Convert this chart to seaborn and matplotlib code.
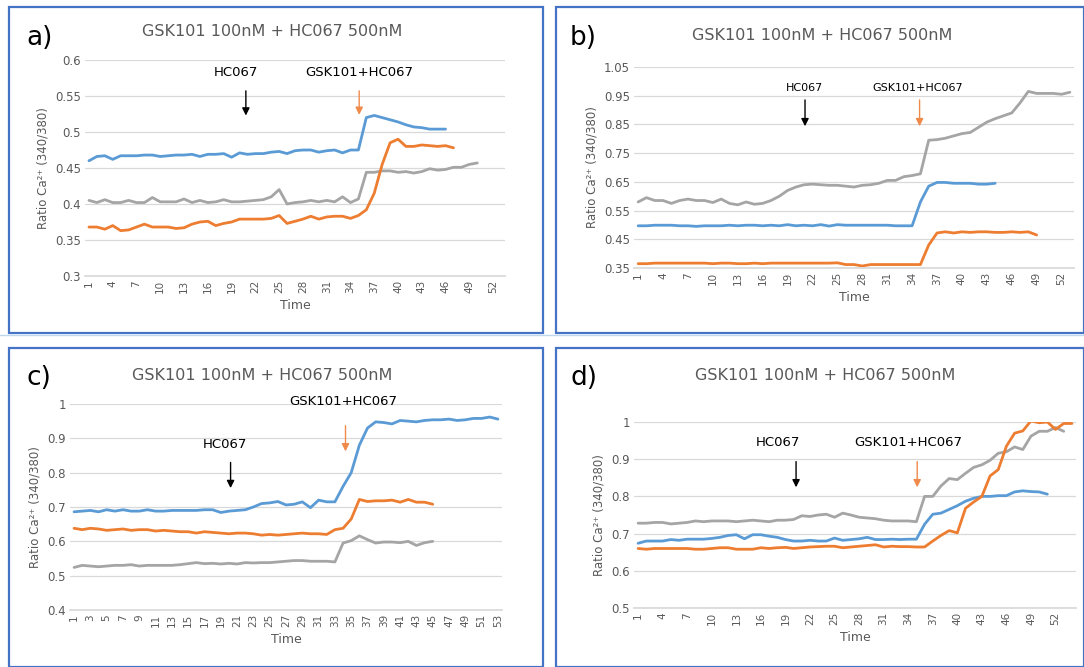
import matplotlib
matplotlib.use("Agg")
import matplotlib.pyplot as plt
from matplotlib.lines import Line2D
from matplotlib.patches import Rectangle
import numpy as np
import seaborn as sns

sns.set_theme(style="white")
plt.rcParams["font.family"] = ["DejaVu Sans"]

BLUE = "#5B9BD5"
ORANGE = "#ED7D31"
GRAY = "#A5A5A5"
TEXT = "#595959"
FRAME = "#4472C4"

TITLE = "GSK101 100nM + HC067 500nM"

# ---- panel a ----
a_blue = [0.460, 0.466, 0.467, 0.462, 0.467, 0.467, 0.467, 0.468, 0.468, 0.466,
          0.467, 0.468, 0.468, 0.469, 0.466, 0.469, 0.469, 0.470, 0.465, 0.471,
          0.469, 0.470, 0.470, 0.472, 0.473, 0.470, 0.474, 0.475, 0.475, 0.472,
          0.474, 0.475, 0.471, 0.475, 0.475, 0.520, 0.523, 0.520, 0.517, 0.514,
          0.510, 0.507, 0.506, 0.504, 0.504, 0.504]
a_orange = [0.368, 0.368, 0.365, 0.370, 0.363, 0.364, 0.368, 0.372, 0.368, 0.368,
            0.368, 0.366, 0.367, 0.372, 0.375, 0.376, 0.370, 0.373, 0.375, 0.379,
            0.379, 0.379, 0.379, 0.380, 0.384, 0.373, 0.376, 0.379, 0.383, 0.379,
            0.382, 0.383, 0.383, 0.380, 0.384, 0.392, 0.415, 0.455, 0.485, 0.490,
            0.480, 0.480, 0.482, 0.481, 0.480, 0.481, 0.478]
a_gray = [0.405, 0.402, 0.406, 0.402, 0.402, 0.405, 0.402, 0.402, 0.409, 0.403,
          0.403, 0.403, 0.407, 0.402, 0.405, 0.402, 0.403, 0.406, 0.403, 0.403,
          0.404, 0.405, 0.406, 0.410, 0.420, 0.400, 0.402, 0.403, 0.405, 0.403,
          0.405, 0.403, 0.410, 0.402, 0.407, 0.444, 0.444, 0.446, 0.446, 0.444,
          0.445, 0.443, 0.445, 0.449, 0.447, 0.448, 0.451, 0.451, 0.455, 0.457]

# ---- panel b ----
b_blue = [0.497, 0.497, 0.499, 0.499, 0.499, 0.497, 0.497, 0.495, 0.497, 0.497,
          0.497, 0.499, 0.497, 0.499, 0.499, 0.497, 0.499, 0.497, 0.501, 0.497,
          0.499, 0.497, 0.501, 0.496, 0.501, 0.499, 0.499, 0.499, 0.499, 0.499,
          0.499, 0.497, 0.497, 0.497, 0.580, 0.635, 0.648, 0.648, 0.645, 0.645,
          0.645, 0.642, 0.642, 0.645]
b_orange = [0.365, 0.365, 0.367, 0.367, 0.367, 0.367, 0.367, 0.367, 0.367, 0.365,
            0.367, 0.367, 0.365, 0.365, 0.367, 0.365, 0.367, 0.367, 0.367, 0.367,
            0.367, 0.367, 0.367, 0.367, 0.368, 0.362, 0.362, 0.357, 0.362, 0.362,
            0.362, 0.362, 0.362, 0.362, 0.362, 0.430, 0.472, 0.476, 0.472, 0.476,
            0.474, 0.476, 0.476, 0.474, 0.474, 0.476, 0.474, 0.476, 0.465]
b_gray = [0.580, 0.595, 0.585, 0.585, 0.575, 0.585, 0.590, 0.585, 0.585, 0.578,
          0.590, 0.575, 0.570, 0.580, 0.572, 0.575, 0.585, 0.600, 0.620, 0.632,
          0.640, 0.642, 0.640, 0.638, 0.638, 0.635, 0.632, 0.638, 0.640, 0.645,
          0.655, 0.655, 0.668, 0.672, 0.678, 0.795, 0.797, 0.802, 0.810, 0.818,
          0.822, 0.840, 0.858, 0.870, 0.880, 0.890, 0.925, 0.965, 0.958, 0.958,
          0.958, 0.955, 0.962]

# ---- panel c ----
c_blue = [0.686, 0.688, 0.690, 0.686, 0.692, 0.688, 0.692, 0.688, 0.688, 0.692,
          0.688, 0.688, 0.690, 0.690, 0.690, 0.690, 0.692, 0.692, 0.684, 0.688,
          0.690, 0.692, 0.700, 0.710, 0.712, 0.716, 0.706, 0.708, 0.715, 0.698,
          0.720, 0.715, 0.715, 0.760, 0.800, 0.880, 0.930, 0.948, 0.946, 0.942,
          0.952, 0.950, 0.948, 0.952, 0.954, 0.954, 0.956, 0.952, 0.954, 0.958,
          0.958, 0.962, 0.956]
c_orange = [0.638, 0.634, 0.638, 0.636, 0.632, 0.634, 0.636, 0.632, 0.634, 0.634,
            0.630, 0.632, 0.630, 0.628, 0.628, 0.624, 0.628, 0.626, 0.624, 0.622,
            0.624, 0.624, 0.622, 0.618, 0.620, 0.618, 0.620, 0.622, 0.624, 0.622,
            0.622, 0.620, 0.634, 0.638, 0.665, 0.722, 0.716, 0.718, 0.718, 0.720,
            0.714, 0.722, 0.714, 0.714, 0.708]
c_gray = [0.524, 0.530, 0.528, 0.526, 0.528, 0.530, 0.530, 0.532, 0.528, 0.530,
          0.530, 0.530, 0.530, 0.532, 0.535, 0.538, 0.535, 0.536, 0.534, 0.536,
          0.534, 0.538, 0.537, 0.538, 0.538, 0.540, 0.542, 0.544, 0.544, 0.542,
          0.542, 0.542, 0.540, 0.595, 0.602, 0.616, 0.605, 0.595, 0.598, 0.598,
          0.596, 0.600, 0.588, 0.596, 0.600]

# ---- panel d ----
d_blue = [0.674, 0.680, 0.680, 0.680, 0.684, 0.682, 0.685, 0.685, 0.685, 0.687,
          0.690, 0.695, 0.697, 0.686, 0.697, 0.697, 0.693, 0.690, 0.684, 0.680,
          0.680, 0.682, 0.680, 0.680, 0.688, 0.682, 0.684, 0.686, 0.690, 0.684,
          0.684, 0.685, 0.684, 0.685, 0.685, 0.725, 0.752, 0.755, 0.765, 0.775,
          0.787, 0.795, 0.800, 0.800, 0.802, 0.802, 0.812, 0.815, 0.813, 0.812,
          0.806]
d_orange = [0.660, 0.658, 0.660, 0.660, 0.660, 0.660, 0.660, 0.658, 0.658, 0.660,
            0.662, 0.662, 0.658, 0.658, 0.658, 0.662, 0.660, 0.662, 0.663, 0.660,
            0.662, 0.664, 0.665, 0.666, 0.666, 0.662, 0.664, 0.666, 0.668, 0.670,
            0.664, 0.666, 0.665, 0.665, 0.664, 0.664, 0.680, 0.695, 0.708, 0.702,
            0.768, 0.785, 0.800, 0.855, 0.872, 0.935, 0.970, 0.976, 1.003, 0.998,
            1.000, 0.980, 0.996, 0.996]
d_gray = [0.728, 0.728, 0.730, 0.730, 0.726, 0.728, 0.730, 0.734, 0.732, 0.734,
          0.734, 0.734, 0.732, 0.734, 0.736, 0.734, 0.732, 0.736, 0.736, 0.738,
          0.748, 0.746, 0.750, 0.752, 0.744, 0.755, 0.750, 0.744, 0.742, 0.740,
          0.736, 0.734, 0.734, 0.734, 0.732, 0.800, 0.800, 0.828, 0.848, 0.845,
          0.862, 0.878, 0.885, 0.897, 0.916, 0.920, 0.933, 0.926, 0.962, 0.975,
          0.975, 0.985, 0.975]

W, H = 1084, 667


def px_box(left, top, right, bottom):
    return [left / W, 1 - bottom / H, (right - left) / W, (bottom - top) / H]


def draw_panel(fig, cfg):
    fl, ft, fr, fb = cfg["frame"]
    fig.patches.append(Rectangle((fl / W, 1 - fb / H), (fr - fl) / W, (fb - ft) / H,
                                 transform=fig.transFigure, fill=False,
                                 edgecolor=FRAME, linewidth=1.6))
    fig.text(cfg["label_xy"][0] / W, 1 - cfg["label_xy"][1] / H, cfg["label"],
             fontsize=19, color="black", va="center", ha="left")
    fig.text(cfg["title_xy"][0] / W, 1 - cfg["title_xy"][1] / H, TITLE,
             fontsize=11.5, color=TEXT, va="center", ha="center")

    ax = fig.add_axes(px_box(*cfg["axes"]))
    for vals, col in cfg["series"]:
        x = np.arange(1, len(vals) + 1)
        sns.lineplot(x=x, y=vals, color=col, linewidth=2, ax=ax)

    ax.set_xlim(0.5, cfg["ncat"] + 0.5)
    ax.set_ylim(*cfg["ylim"])
    ax.set_yticks(cfg["yticks"])
    ax.set_yticklabels(cfg["yticklabels"], fontsize=8.5, color=TEXT)
    ax.set_xticks(cfg["xticks"])
    ax.set_xticklabels([str(t) for t in cfg["xticks"]], rotation=90,
                       fontsize=7.5, color=TEXT)
    ax.tick_params(axis="both", length=0, pad=3)
    ax.grid(axis="y", color="#D9D9D9", linewidth=0.9)
    ax.set_axisbelow(True)
    for s in ["top", "right", "left"]:
        ax.spines[s].set_visible(False)
    ax.spines["bottom"].set_color("#D9D9D9")
    ax.set_xlabel("Time", fontsize=9, color=TEXT, labelpad=4)
    ax.set_ylabel("Ratio Ca²⁺ (340/380)", fontsize=8.5, color=TEXT, labelpad=4)

    fs = cfg["note_fs"]
    hx, hy, ax1, y0, y1 = cfg["hc"]
    ax.text(hx, hy, "HC067", fontsize=fs, color="black", ha="center", va="center",
            clip_on=False)
    ax.annotate("", xy=(ax1, y1), xytext=(ax1, y0), annotation_clip=False,
                arrowprops=dict(arrowstyle="-|>", color="black", lw=1,
                                mutation_scale=11))
    gx, gy, ax2, y0, y1 = cfg["gsk"]
    ax.text(gx, gy, "GSK101+HC067", fontsize=fs, color="black", ha="center",
            va="center", clip_on=False)
    ax.annotate("", xy=(ax2, y1), xytext=(ax2, y0), annotation_clip=False,
                arrowprops=dict(arrowstyle="-|>", color="#F08A4B", lw=1,
                                mutation_scale=11))
    return ax


panels = [
    dict(label="a)", frame=(9, 7, 543, 333), label_xy=(26, 38), title_xy=(272, 32),
         axes=(85, 60, 505, 276), ncat=53, ylim=(0.3, 0.6),
         yticks=[0.3, 0.35, 0.4, 0.45, 0.5, 0.55, 0.6],
         yticklabels=["0.3", "0.35", "0.4", "0.45", "0.5", "0.55", "0.6"],
         xticks=list(range(1, 53, 3)), note_fs=9.5,
         series=[(a_blue, BLUE), (a_gray, GRAY), (a_orange, ORANGE)],
         hc=(19.5, 0.583, 20.8, 0.561, 0.519),
         gsk=(35.1, 0.583, 35.1, 0.561, 0.520)),
    dict(label="b)", frame=(556, 7, 1084, 333), label_xy=(570, 38), title_xy=(822, 36),
         axes=(634, 67, 1074, 268), ncat=53, ylim=(0.35, 1.05),
         yticks=[0.35, 0.45, 0.55, 0.65, 0.75, 0.85, 0.95, 1.05],
         yticklabels=["0.35", "0.45", "0.55", "0.65", "0.75", "0.85", "0.95", "1.05"],
         xticks=list(range(1, 53, 3)), note_fs=8,
         series=[(b_blue, BLUE), (b_gray, GRAY), (b_orange, ORANGE)],
         hc=(21.0, 0.978, 21.1, 0.945, 0.834),
         gsk=(34.7, 0.978, 34.9, 0.945, 0.834)),
    dict(label="c)", frame=(9, 348, 543, 667), label_xy=(26, 378), title_xy=(262, 375),
         axes=(70, 404, 502, 610), ncat=53, ylim=(0.4, 1.0),
         yticks=[0.4, 0.5, 0.6, 0.7, 0.8, 0.9, 1.0],
         yticklabels=["0.4", "0.5", "0.6", "0.7", "0.8", "0.9", "1"],
         xticks=list(range(1, 54, 2)), note_fs=9.5,
         series=[(c_blue, BLUE), (c_gray, GRAY), (c_orange, ORANGE)],
         hc=(19.5, 0.883, 20.2, 0.838, 0.747),
         gsk=(34.0, 1.006, 34.3, 0.945, 0.854)),
    dict(label="d)", frame=(556, 348, 1084, 667), label_xy=(570, 378), title_xy=(825, 375),
         axes=(634, 422, 1076, 608), ncat=54, ylim=(0.5, 1.0),
         yticks=[0.5, 0.6, 0.7, 0.8, 0.9, 1.0],
         yticklabels=["0.5", "0.6", "0.7", "0.8", "0.9", "1"],
         xticks=list(range(1, 53, 3)), note_fs=9.5,
         series=[(d_blue, BLUE), (d_gray, GRAY), (d_orange, ORANGE)],
         hc=(18.1, 0.946, 20.3, 0.901, 0.817),
         gsk=(34.0, 0.946, 35.1, 0.901, 0.817)),
]

fig = plt.figure(figsize=(W / 100, H / 100), dpi=100)
fig.patch.set_facecolor("white")

# thin light separator between the two rows of panels
fig.lines.append(Line2D([0, 1], [1 - 335 / H, 1 - 335 / H], transform=fig.transFigure,
                        color="#BDD7EE", linewidth=1))

for cfg in panels:
    draw_panel(fig, cfg)

fig.savefig("out.png", dpi=100, facecolor="white")
